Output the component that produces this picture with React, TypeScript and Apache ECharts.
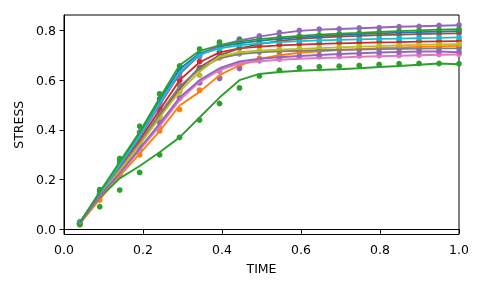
import React, { useEffect, useRef } from "react";
import * as echarts from "echarts";

const timeValues = [0.04, 0.0905, 0.1411, 0.1916, 0.2421, 0.2926, 0.3432, 0.3937, 0.4442, 0.4947, 0.5453, 0.5958, 0.6463, 0.6968, 0.7474, 0.7979, 0.8484, 0.8989, 0.9495, 1.0];
const yTickValues = [0, 0.2, 0.4, 0.6, 0.8];
const xTickValues = [0, 0.2, 0.4, 0.6, 0.8, 1.0];

// fitted curves
const blueLine = [0.026, 0.148, 0.265, 0.382, 0.518, 0.645, 0.708, 0.735, 0.748, 0.758, 0.766, 0.772, 0.777, 0.781, 0.785, 0.788, 0.791, 0.793, 0.795, 0.797];
const orangeLine = [0.022, 0.122, 0.215, 0.305, 0.395, 0.498, 0.553, 0.62, 0.66, 0.685, 0.7, 0.71, 0.716, 0.721, 0.725, 0.729, 0.732, 0.734, 0.736, 0.738];
const greenLowLine = [0.03, 0.128, 0.205, 0.255, 0.31, 0.37, 0.45, 0.53, 0.6, 0.625, 0.633, 0.638, 0.641, 0.644, 0.648, 0.653, 0.657, 0.662, 0.667, 0.664];
const redLine = [0.025, 0.142, 0.25, 0.36, 0.48, 0.6, 0.672, 0.712, 0.728, 0.735, 0.74, 0.743, 0.746, 0.748, 0.75, 0.752, 0.753, 0.755, 0.756, 0.757];
const purpleTopLine = [0.027, 0.145, 0.255, 0.37, 0.5, 0.625, 0.7, 0.74, 0.76, 0.775, 0.788, 0.798, 0.803, 0.806, 0.809, 0.812, 0.815, 0.817, 0.819, 0.821];
const brownLine = [0.024, 0.138, 0.24, 0.345, 0.455, 0.565, 0.652, 0.7, 0.728, 0.745, 0.758, 0.766, 0.771, 0.775, 0.778, 0.781, 0.783, 0.785, 0.787, 0.788];
const pinkLine = [0.023, 0.133, 0.224, 0.32, 0.415, 0.52, 0.593, 0.64, 0.667, 0.676, 0.682, 0.686, 0.689, 0.691, 0.694, 0.696, 0.698, 0.7, 0.702, 0.703];
const grayLine = [0.024, 0.14, 0.242, 0.348, 0.465, 0.575, 0.645, 0.688, 0.705, 0.712, 0.716, 0.718, 0.72, 0.722, 0.723, 0.725, 0.726, 0.727, 0.728, 0.728];
const oliveLine = [0.023, 0.136, 0.236, 0.34, 0.45, 0.555, 0.634, 0.695, 0.712, 0.718, 0.722, 0.726, 0.729, 0.732, 0.735, 0.737, 0.74, 0.742, 0.744, 0.745];
const cyanLine = [0.025, 0.146, 0.26, 0.376, 0.508, 0.633, 0.703, 0.728, 0.74, 0.748, 0.753, 0.757, 0.76, 0.762, 0.764, 0.766, 0.767, 0.769, 0.77, 0.772];
const purple2Line = [0.024, 0.135, 0.226, 0.326, 0.425, 0.53, 0.6, 0.648, 0.675, 0.686, 0.692, 0.697, 0.701, 0.705, 0.708, 0.711, 0.713, 0.715, 0.715, 0.712];
const greenTopLine = [0.028, 0.15, 0.272, 0.392, 0.528, 0.66, 0.718, 0.74, 0.755, 0.765, 0.772, 0.778, 0.783, 0.787, 0.79, 0.794, 0.797, 0.8, 0.803, 0.805];

// measured points
const bluePts = [0.03, 0.152, 0.27, 0.39, 0.525, 0.64, 0.705, 0.738, 0.752, 0.762, 0.77, 0.776, 0.779, 0.783, 0.786, 0.789, 0.792, 0.794, 0.796, 0.798];
const orangePts = [0.02, 0.118, 0.22, 0.3, 0.396, 0.482, 0.56, 0.61, 0.655, 0.688, 0.702, 0.712, 0.718, 0.722, 0.726, 0.73, 0.733, 0.735, 0.737, 0.739];
const greenLowPts = [0.02, 0.091, 0.158, 0.229, 0.3, 0.37, 0.44, 0.506, 0.569, 0.617, 0.64, 0.65, 0.654, 0.656, 0.659, 0.663, 0.666, 0.667, 0.667, 0.666];
const redPts = [0.025, 0.145, 0.255, 0.365, 0.485, 0.6, 0.675, 0.715, 0.73, 0.738, 0.742, 0.745, 0.748, 0.75, 0.752, 0.754, 0.755, 0.756, 0.757, 0.758];
const purpleTopPts = [0.03, 0.15, 0.279, 0.392, 0.51, 0.615, 0.695, 0.745, 0.765, 0.778, 0.792, 0.8, 0.805, 0.806, 0.81, 0.811, 0.815, 0.816, 0.82, 0.822];
const brownPts = [0.022, 0.135, 0.245, 0.35, 0.453, 0.56, 0.65, 0.7, 0.73, 0.748, 0.76, 0.768, 0.772, 0.776, 0.779, 0.782, 0.784, 0.786, 0.787, 0.789];
const pinkPts = [0.022, 0.13, 0.22, 0.318, 0.41, 0.527, 0.59, 0.636, 0.665, 0.678, 0.684, 0.694, 0.694, 0.695, 0.697, 0.698, 0.699, 0.701, 0.703, 0.704];
const grayPts = [0.024, 0.142, 0.24, 0.355, 0.47, 0.58, 0.648, 0.69, 0.706, 0.713, 0.717, 0.719, 0.721, 0.722, 0.724, 0.725, 0.726, 0.727, 0.728, 0.729];
const olivePts = [0.022, 0.138, 0.232, 0.338, 0.448, 0.552, 0.62, 0.69, 0.71, 0.72, 0.724, 0.727, 0.73, 0.733, 0.736, 0.738, 0.74, 0.742, 0.744, 0.745];
const cyanPts = [0.028, 0.14, 0.262, 0.372, 0.505, 0.628, 0.7, 0.725, 0.742, 0.75, 0.755, 0.758, 0.76, 0.763, 0.765, 0.766, 0.768, 0.769, 0.771, 0.772];
const purple2Pts = [0.025, 0.138, 0.23, 0.33, 0.43, 0.528, 0.59, 0.607, 0.647, 0.68, 0.69, 0.696, 0.7, 0.704, 0.707, 0.71, 0.712, 0.714, 0.715, 0.713];
const greenTopPts = [0.02, 0.16, 0.285, 0.415, 0.545, 0.657, 0.725, 0.753, 0.762, 0.768, 0.772, 0.778, 0.782, 0.786, 0.79, 0.793, 0.797, 0.799, 0.802, 0.805];

const seriesDefs: { color: string; line: number[]; pts: number[] }[] = [
  { color: "#1f77b4", line: blueLine, pts: bluePts },
  { color: "#ff7f0e", line: orangeLine, pts: orangePts },
  { color: "#2ca02c", line: greenLowLine, pts: greenLowPts },
  { color: "#d62728", line: redLine, pts: redPts },
  { color: "#9467bd", line: purpleTopLine, pts: purpleTopPts },
  { color: "#8c564b", line: brownLine, pts: brownPts },
  { color: "#e377c2", line: pinkLine, pts: pinkPts },
  { color: "#7f7f7f", line: grayLine, pts: grayPts },
  { color: "#bcbd22", line: oliveLine, pts: olivePts },
  { color: "#17becf", line: cyanLine, pts: cyanPts },
  { color: "#9467bd", line: purple2Line, pts: purple2Pts },
  { color: "#2ca02c", line: greenTopLine, pts: greenTopPts },
];

const FONT = "DejaVu Sans";

export default function App() {
  const ref = useRef<HTMLDivElement>(null);
  useEffect(() => {
    if (!ref.current) return;
    const chart = echarts.init(ref.current, null, { renderer: "svg" });
    const series: any[] = [];
    seriesDefs.forEach((s) => {
      series.push({
        type: "scatter",
        data: timeValues.map((t, i) => [t, s.pts[i]]),
        symbolSize: 5.8,
        itemStyle: { color: s.color, opacity: 1 },
        silent: true,
      });
      series.push({
        type: "line",
        data: timeValues.map((t, i) => [t, s.line[i]]),
        showSymbol: false,
        lineStyle: { color: s.color, width: 1.9 },
        itemStyle: { color: s.color },
        silent: true,
      });
    });
    const labelStyle = { color: "#000", fontSize: 12.5, fontFamily: FONT };
    chart.setOption({
      animation: false,
      grid: {
        left: 64,
        right: 26,
        top: 15,
        bottom: 56.5,
        show: true,
        borderColor: "#000",
        borderWidth: 1,
        backgroundColor: "transparent",
      },
      xAxis: {
        type: "value",
        min: 0,
        max: 1,
        interval: 0.2,
        name: "TIME",
        nameLocation: "middle",
        nameGap: 27,
        nameTextStyle: labelStyle,
        axisLine: { show: true, lineStyle: { color: "#000", width: 1 } },
        axisTick: { show: true, length: 4.4, lineStyle: { color: "#000", width: 1 }, customValues: xTickValues },
        axisLabel: { ...labelStyle, margin: 8, formatter: (v: number) => v.toFixed(1), customValues: xTickValues },
        splitLine: { show: false },
      },
      yAxis: {
        type: "value",
        min: -0.0205,
        max: 0.862,
        name: "STRESS",
        nameLocation: "middle",
        nameRotate: 90,
        nameGap: 36,
        nameTextStyle: labelStyle,
        axisLine: { show: true, lineStyle: { color: "#000", width: 1 } },
        axisTick: { show: true, length: 4.4, lineStyle: { color: "#000", width: 1 }, customValues: yTickValues },
        axisLabel: { ...labelStyle, margin: 8, formatter: (v: number) => v.toFixed(1), customValues: yTickValues },
        splitLine: { show: false },
      },
      series,
    });
    return () => chart.dispose();
  }, []);
  return <div ref={ref} style={{ position: "fixed", left: 0, top: 0, width: 485, height: 291 }} />;
}
